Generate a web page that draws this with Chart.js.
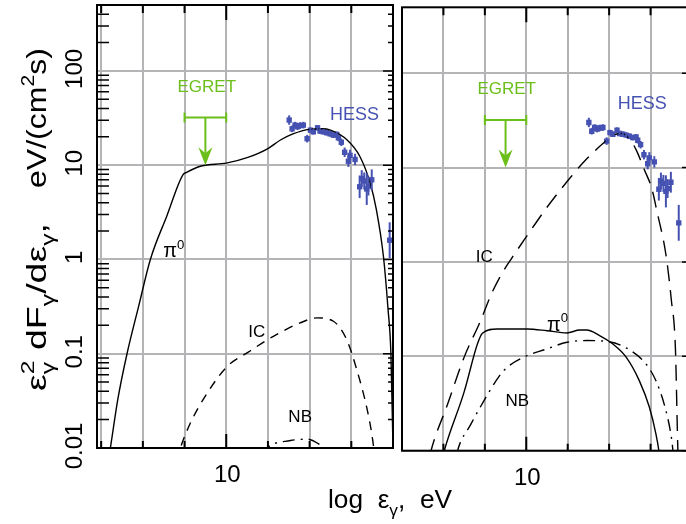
<!DOCTYPE html>
<html>
<head>
<meta charset="utf-8">
<script src="https://cdn.jsdelivr.net/npm/chart.js@4.4.1/dist/chart.umd.min.js"></script>
<style>
    html, body { margin: 0; padding: 0; background: #fff; width: 686px; height: 524px; overflow: hidden; }
    #left { position: absolute; left: 0; top: 0; }
    #right { position: absolute; left: 398px; top: 0; }
</style>
</head>
<body>
<canvas id="left" width="686" height="524"></canvas>
<canvas id="right" width="298" height="524"></canvas>
<script>
// ---- axes ----
const yDecades = [0.01, 0.1, 1, 10, 100];
const yTickLabels = ['0.01', '0.1', '1', '10', '100'];
const xGrid = [7, 8, 9, 10, 11, 12, 13, 14];
const xLabelAt = 10;
const xTickLabel = '10';

// ---- left panel curves (log eV, eV/(cm2 s)) ----
const piLeftX = [7.02, 7.22, 7.4, 7.62, 7.9, 8.18, 8.58, 8.96, 9.05, 9.4, 10.0, 10.5, 11.0, 11.3, 11.6, 12.0, 12.3, 12.5, 12.9, 13.2, 13.45, 13.6, 13.77, 13.88, 13.95, 14.0];
const piLeftY = [0.003, 0.01, 0.033, 0.1, 0.32, 1.0, 2.93, 7.9, 8.4, 9.8, 10.5, 12, 15, 18.5, 21.5, 24, 24.3, 23.5, 18.5, 12.5, 6.5, 3.4, 1.08, 0.3, 0.1, 0.01];
const icLeftX = [8.7, 8.9, 9.14, 9.54, 10.02, 10.5, 11.13, 11.77, 12.17, 12.57, 12.89, 13.13, 13.38, 13.5, 13.6];
const icLeftY = [0.005, 0.01, 0.0184, 0.038, 0.073, 0.102, 0.153, 0.212, 0.24, 0.221, 0.141, 0.068, 0.0257, 0.0133, 0.006];
const nbLeftX = [10.5, 10.98, 11.54, 11.94, 12.18, 12.3, 12.45];
const nbLeftY = [0.005, 0.01, 0.012, 0.0124, 0.0113, 0.01, 0.006];

// ---- right panel curves ----
const piRightX = [7.9, 8.02, 8.5, 8.82, 8.94, 9.3, 10.02, 10.5, 10.98, 11.29, 11.46, 11.77, 12.09, 12.41, 12.73, 12.97, 13.13, 13.2, 13.26];
const piRightY = [0.006, 0.01, 0.042, 0.135, 0.176, 0.195, 0.195, 0.187, 0.177, 0.19, 0.19, 0.166, 0.135, 0.098, 0.055, 0.029, 0.015, 0.01, 0.006];
const icRightX = [7.55, 7.7, 8.1, 8.5, 8.9, 9.15, 9.4, 9.65, 9.94, 10.5, 11.1, 11.46, 11.85, 12.1, 12.3, 12.5, 12.65, 12.85, 13.03, 13.15, 13.37, 13.5, 13.6, 13.66, 13.7];
const icRightY = [0.005, 0.01, 0.031, 0.098, 0.24, 0.45, 0.74, 1.1, 1.69, 3.8, 8.2, 12.4, 18.0, 22, 23, 20, 15.5, 9.5, 6.0, 3.5, 1.2, 0.4, 0.12, 0.01, 0.005];
const nbRightX = [8.2, 8.34, 8.66, 8.98, 9.22, 9.46, 9.94, 10.5, 10.98, 11.46, 11.94, 12.41, 12.89, 13.13, 13.33, 13.49, 13.53, 13.58];
const nbRightY = [0.005, 0.01, 0.019, 0.034, 0.051, 0.071, 0.098, 0.12, 0.141, 0.147, 0.144, 0.123, 0.083, 0.055, 0.031, 0.015, 0.011, 0.006];

// ---- HESS points (value, error half-width in dex) ----
const hessX = [11.51, 11.58, 11.65, 11.71, 11.77, 11.85, 11.94, 12.02, 12.09, 12.19, 12.25, 12.33, 12.41, 12.49, 12.57, 12.65, 12.69, 12.76, 12.84, 12.93, 12.97, 13.09, 13.2, 13.25, 13.31, 13.37, 13.41, 13.49];
const hessY = [30.1, 24.3, 26.6, 25.6, 26.3, 26.6, 19.1, 23.5, 22.6, 24.9, 23.0, 22.6, 22.1, 21.5, 20.8, 21.2, 19.5, 17.5, 13.7, 11.0, 12.7, 11.5, 5.9, 7.2, 6.8, 5.6, 6.0, 7.0];
const hessErr = [0.05, 0.035, 0.035, 0.035, 0.035, 0.035, 0.04, 0.03, 0.03, 0.03, 0.03, 0.03, 0.03, 0.03, 0.03, 0.03, 0.035, 0.04, 0.05, 0.06, 0.06, 0.06, 0.12, 0.09, 0.09, 0.17, 0.1, 0.11];
const hessLastLeft = [13.92, 1.6, 0.19];
const hessLastRight = [13.68, 2.6, 0.19];

// ---- EGRET upper limit ----
const egretRange = [9, 10];
const egretLimit = 32;
const egretTip = 10;

const FONT = '"Liberation Sans", Arial, Helvetica, sans-serif';
const GRID = '#b4b4b6';
const HESS_COLOR = '#4652b2';
const EGRET_COLOR = '#6cbf1a';

function pts(xs, ys) {
    return xs.map((x, i) => ({ x: x, y: ys[i] }));
}

function curve(xs, ys, dash) {
    return {
        data: pts(xs, ys),
        showLine: true,
        borderColor: '#000',
        borderWidth: 1.4,
        borderDash: dash,
        pointRadius: 0,
        cubicInterpolationMode: 'monotone',
        fill: false
    };
}

// text made of runs: [text, 'n' | 'sup' | 'sub']
function layoutRuns(ctx, runs, size) {
    let x = 0, supStart = null, prev = null;
    const out = [];
    runs.forEach(([t, k]) => {
        const s = k === 'n' ? size : size * 0.66;
        ctx.font = `${s}px ${FONT}`;
        const w = ctx.measureText(t).width;
        const dy = k === 'sup' ? -size * 0.42 : k === 'sub' ? size * 0.3 : 0;
        let x0 = x;
        if (k === 'sub' && prev === 'sup') {
            x0 = supStart;
            x = Math.max(x, supStart + w);
        } else {
            if (k === 'sup') supStart = x;
            x += w;
        }
        out.push({ t, s, x0, dy });
        prev = k;
    });
    return { items: out, width: x };
}

function drawRuns(ctx, runs, size, ox, oy, targetWidth, rotate, color) {
    const lay = layoutRuns(ctx, runs, size);
    ctx.save();
    ctx.translate(ox, oy);
    if (rotate) ctx.rotate(-Math.PI / 2);
    if (targetWidth) ctx.scale(targetWidth / lay.width, 1);
    ctx.fillStyle = color || '#000';
    ctx.textAlign = 'left';
    ctx.textBaseline = 'alphabetic';
    lay.items.forEach(it => {
        ctx.font = `${it.s}px ${FONT}`;
        ctx.fillText(it.t, it.x0, it.dy);
    });
    ctx.restore();
}

function decorPlugin(cfg) {
    return {
        id: 'decor',
        afterDatasetsDraw(chart) {
            const ctx = chart.ctx;
            const a = chart.chartArea;
            const xs = chart.scales.x, ys = chart.scales.y;
            const px = v => xs.getPixelForValue(v);
            const py = v => ys.getPixelForValue(v);
            ctx.save();

            // HESS error bars
            ctx.strokeStyle = HESS_COLOR;
            ctx.lineWidth = 2;
            const hx = hessX.concat([cfg.hessLast[0]]);
            const hy = hessY.concat([cfg.hessLast[1]]);
            const he = hessErr.concat([cfg.hessLast[2]]);
            hx.forEach((x, i) => {
                const f = Math.pow(10, he[i]);
                ctx.beginPath();
                ctx.moveTo(px(x), py(hy[i] / f));
                ctx.lineTo(px(x), py(hy[i] * f));
                ctx.stroke();
            });

            // EGRET upper limit
            const ex0 = px(egretRange[0]), ex1 = px(egretRange[1]);
            const exm = px((egretRange[0] + egretRange[1]) / 2);
            const eyl = py(egretLimit), eyt = py(egretTip);
            ctx.strokeStyle = EGRET_COLOR;
            ctx.fillStyle = EGRET_COLOR;
            ctx.lineWidth = 2;
            ctx.beginPath();
            ctx.moveTo(ex0, eyl); ctx.lineTo(ex1, eyl);
            ctx.moveTo(ex0, eyl - 5); ctx.lineTo(ex0, eyl + 5);
            ctx.moveTo(ex1, eyl - 5); ctx.lineTo(ex1, eyl + 5);
            ctx.moveTo(exm, eyl); ctx.lineTo(exm, eyt - 10);
            ctx.stroke();
            ctx.beginPath();
            ctx.moveTo(exm, eyt);
            ctx.lineTo(exm - 7, eyt - 18);
            ctx.lineTo(exm, eyt - 12);
            ctx.lineTo(exm + 7, eyt - 18);
            ctx.closePath();
            ctx.fill();

            // frame
            ctx.strokeStyle = '#000';
            ctx.lineWidth = 2;
            ctx.strokeRect(a.left, a.top, a.right - a.left, a.bottom - a.top);

            // x tick marks (top and bottom)
            ctx.lineWidth = 2;
            ctx.beginPath();
            xGrid.forEach(v => {
                const x = px(v);
                if (x <= a.left + 1 || x >= a.right - 1) return;
                const big = v === xLabelAt;
                ctx.moveTo(x, a.top); ctx.lineTo(x, a.top + (big ? 15 : 8));
                ctx.moveTo(x, a.bottom); ctx.lineTo(x, a.bottom - (big ? 14 : 7));
            });
            ctx.stroke();

            // y tick marks
            ctx.lineWidth = 1.5;
            ctx.beginPath();
            yDecades.forEach(d => {
                const y = py(d);
                ctx.moveTo(a.right, y); ctx.lineTo(a.right - 10, y);
                for (let m = 2; m <= 9; m++) {
                    const v = d * m;
                    if (v > ys.max) break;
                    const ym = py(v);
                    if (cfg.leftMinor) { ctx.moveTo(a.left, ym); ctx.lineTo(a.left + 12, ym); }
                    ctx.moveTo(a.right, ym); ctx.lineTo(a.right - 5, ym);
                }
            });
            ctx.stroke();

            // tick labels
            ctx.fillStyle = '#000';
            ctx.font = `24px ${FONT}`;
            ctx.textAlign = 'center';
            ctx.textBaseline = 'alphabetic';
            ctx.fillText(xTickLabel, px(xLabelAt) + 1, a.bottom + 34);
            if (cfg.yLabels) {
                yDecades.forEach((d, i) => {
                    ctx.save();
                    ctx.translate(a.left - 15, py(d) - 2);
                    ctx.rotate(-Math.PI / 2);
                    ctx.fillText(yTickLabels[i], 0, 0);
                    ctx.restore();
                });
            }

            // curve and data labels
            cfg.labels.forEach(l => {
                drawRuns(ctx, l.runs, l.size, px(l.at[0]), py(l.at[1]), null, false, l.color);
            });

            // axis titles
            if (cfg.titles) {
                drawRuns(ctx, [['ε', 'n'], ['2', 'sup'], ['γ', 'sub'], [' dF', 'n'], ['γ', 'sub'], ['/dε', 'n'], ['γ', 'sub'], [',', 'n']],
                    28, 46, 391, 168, true);
                drawRuns(ctx, [['eV/(cm', 'n'], ['2', 'sup'], ['s)', 'n']], 28, 46, 188, 140, true);
                drawRuns(ctx, [['log  ε', 'n'], ['γ', 'sub'], [',  eV', 'n']], 26, 328, 508, 124, false);
            }
            ctx.restore();
        }
    };
}

function hessData(last) {
    return {
        data: pts(hessX.concat([last[0]]), hessY.concat([last[1]])),
        showLine: false,
        pointStyle: 'rect',
        pointRadius: 3.8,
        backgroundColor: HESS_COLOR,
        borderColor: HESS_COLOR,
        borderWidth: 0
    };
}

function makeChart(id, opts) {
    const ctx = document.getElementById(id).getContext('2d');
    return new Chart(ctx, {
        type: 'scatter',
        data: { datasets: opts.datasets },
        options: {
            responsive: false,
            animation: false,
            devicePixelRatio: 1,
            layout: { padding: opts.padding },
            plugins: { legend: { display: false }, tooltip: { enabled: false } },
            scales: {
                x: {
                    type: 'linear',
                    min: opts.xmin,
                    max: opts.xmax,
                    afterBuildTicks: s => { s.ticks = xGrid.map(v => ({ value: v })); },
                    afterFit: s => { s.height = 0; },
                    ticks: { display: false },
                    border: { display: false },
                    grid: { color: GRID, lineWidth: 2, drawTicks: false }
                },
                y: {
                    type: 'logarithmic',
                    min: 0.01,
                    max: 500,
                    afterBuildTicks: s => { s.ticks = yDecades.map(v => ({ value: v })); },
                    afterFit: s => { s.width = 0; },
                    ticks: { display: false },
                    border: { display: false },
                    grid: { color: GRID, lineWidth: 2, drawTicks: false }
                }
            }
        },
        plugins: [decorPlugin(opts.decor)]
    });
}

makeChart('left', {
    xmin: 6.9, xmax: 14.0,
    padding: { left: 97, right: 293, top: 5, bottom: 76 },
    datasets: [
        curve(piLeftX, piLeftY, []),
        curve(icLeftX, icLeftY, [9, 7]),
        curve(nbLeftX, nbLeftY, [12, 6, 2, 6]),
        hessData(hessLastLeft)
    ],
    decor: {
        hessLast: hessLastLeft,
        leftMinor: true,
        yLabels: true,
        titles: true,
        labels: [
            { runs: [['π', 'n'], ['0', 'sup']], size: 20, at: [8.49, 1.05] },
            { runs: [['IC', 'n']], size: 17, at: [10.53, 0.152] },
            { runs: [['NB', 'n']], size: 17, at: [11.49, 0.019] },
            { runs: [['HESS', 'n']], size: 18, at: [12.49, 30.5], color: HESS_COLOR },
            { runs: [['EGRET', 'n']], size: 17, at: [8.83, 60], color: EGRET_COLOR }
        ]
    }
});

makeChart('right', {
    xmin: 7.0, xmax: 14.0,
    padding: { left: 2, right: 3.2, top: 7.3, bottom: 73.3 },
    datasets: [
        curve(piRightX, piRightY, []),
        curve(icRightX, icRightY, [16, 9]),
        curve(nbRightX, nbRightY, [12, 6, 2, 6]),
        hessData(hessLastRight)
    ],
    decor: {
        hessLast: hessLastRight,
        leftMinor: false,
        yLabels: false,
        titles: false,
        labels: [
            { runs: [['π', 'n'], ['0', 'sup']], size: 20, at: [10.5, 0.187] },
            { runs: [['IC', 'n']], size: 17, at: [8.78, 1.01] },
            { runs: [['NB', 'n']], size: 17, at: [9.5, 0.03] },
            { runs: [['HESS', 'n']], size: 18, at: [12.21, 42.2], color: HESS_COLOR },
            { runs: [['EGRET', 'n']], size: 17, at: [8.82, 60], color: EGRET_COLOR }
        ]
    }
});
</script>
</body>
</html>
